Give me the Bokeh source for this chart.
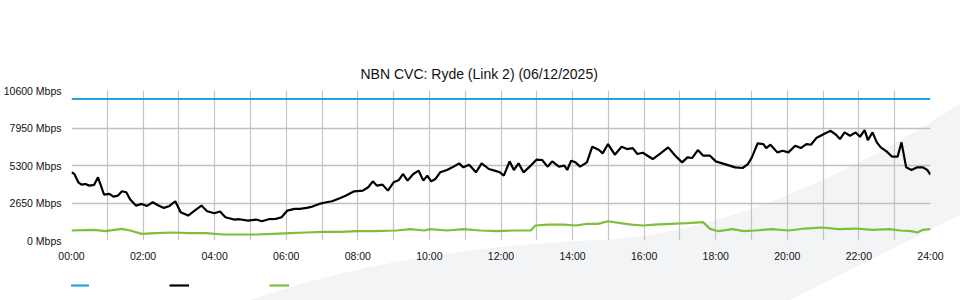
from bokeh.plotting import figure
from bokeh.layouts import column
from bokeh.models import Range1d, FixedTicker, Legend, LegendItem, InlineStyleSheet
from bokeh.embed import file_html
from bokeh.resources import INLINE

# ---- data (hours since midnight, Mbps) ----
title_text = "NBN CVC: Ryde (Link 2) (06/12/2025)"

cap_hours = [0, 24]
cap_mbps = [10000, 10000]

down_hours = [0.00, 0.08, 0.19, 0.28, 0.39, 0.50, 0.63, 0.74, 0.91, 1.06, 1.17, 1.30, 1.41, 1.53, 1.64,
              1.80, 1.96, 2.11, 2.27, 2.43, 2.58, 2.74, 2.90, 3.05, 3.26, 3.44, 3.63, 3.79, 3.99, 4.15,
              4.30, 4.54, 4.69, 4.93, 5.16, 5.32, 5.51, 5.71, 5.87, 6.03, 6.23, 6.38, 6.57, 6.73, 6.92,
              7.12, 7.28, 7.51, 7.67, 7.90, 8.14, 8.29, 8.42, 8.53, 8.69, 8.84, 9.00, 9.15, 9.26, 9.39,
              9.55, 9.70, 9.83, 9.94, 10.05, 10.17, 10.30, 10.49, 10.64, 10.83, 10.95, 11.11, 11.30,
              11.46, 11.66, 11.82, 11.97, 12.08, 12.24, 12.36, 12.49, 12.63, 12.80, 12.99, 13.15, 13.30,
              13.43, 13.62, 13.77, 13.85, 13.96, 14.08, 14.21, 14.40, 14.55, 14.74, 14.84, 14.99, 15.18,
              15.37, 15.52, 15.68, 15.81, 15.96, 16.24, 16.43, 16.67, 16.87, 17.06, 17.21, 17.34, 17.50,
              17.65, 17.84, 18.00, 18.18, 18.39, 18.54, 18.75, 18.90, 19.01, 19.17, 19.33, 19.41, 19.53,
              19.72, 19.87, 20.03, 20.22, 20.38, 20.53, 20.66, 20.81, 21.05, 21.21, 21.36, 21.47, 21.60,
              21.75, 21.91, 22.03, 22.16, 22.25, 22.38, 22.50, 22.61, 22.77, 22.93, 23.08, 23.19, 23.32,
              23.47, 23.63, 23.79, 23.91, 24.00]
down_mbps = [4818, 4700, 4113, 3948, 3995, 3878, 3925, 4465, 3243, 3290, 3102, 3173, 3478, 3408, 2891,
             2468, 2585, 2444, 2703, 2468, 2303, 2444, 2773, 1998, 1763, 2115, 2468, 2068, 1927, 2045,
             1645, 1481, 1504, 1410, 1481, 1363, 1504, 1528, 1645, 2115, 2233, 2233, 2303, 2397, 2585,
             2703, 2773, 3008, 3173, 3478, 3525, 3760, 4183, 3878, 3948, 3525, 4113, 4277, 4700, 4230,
             4700, 4935, 4230, 4583, 4183, 4348, 4818, 4982, 5170, 5452, 5170, 5358, 4818,
             5452, 5053, 4935, 4818, 4583, 5593, 4982, 5452, 4818, 5217, 5711, 5687, 5217,
             5593, 5217, 5288, 4982, 5640, 5523, 5217, 5523, 6627, 6392, 6157, 6815, 6063,
             6627, 6463, 6533, 6110, 6204, 5758, 6110, 6580, 5993, 5523, 5875, 5828, 6392,
             5993, 5993, 5593, 5452, 5288, 5170, 5123, 5405, 5875, 6862, 6815, 6533, 6768,
             6228, 6345, 6228, 6698, 6533, 6815, 6768, 7238, 7567, 7755, 7473, 7168, 7638,
             7403, 7638, 7332, 7802, 7097, 7638, 6933, 6580, 6298, 5922, 5922, 6933, 5170,
             4982, 5170, 5170, 4982, 4653]

up_hours = [0.00, 0.63, 0.94, 1.41, 1.64, 1.96, 2.35, 2.82, 3.29, 3.76, 4.23, 4.69, 5.16, 5.63, 6.10,
            6.57, 7.04, 7.51, 7.98, 8.45, 9.08, 9.47, 9.86, 10.02, 10.49, 10.95, 11.42, 11.89, 12.36,
            12.83, 12.96, 13.30, 13.77, 14.08, 14.40, 14.71, 14.99, 15.34, 15.65, 15.96, 16.28, 16.74,
            17.21, 17.65, 17.84, 18.08, 18.47, 18.78, 19.09, 19.56, 20.03, 20.50, 20.97, 21.44, 21.91,
            22.38, 22.85, 23.16, 23.47, 23.63, 23.79, 24.00]
up_mbps = [705, 752, 658, 823, 705, 470, 517, 564, 517, 517, 423, 423, 423, 470, 517,
           564, 611, 611, 658, 658, 705, 799, 705, 799, 705, 799, 705, 658, 705,
           705, 1058, 1128, 1128, 1058, 1175, 1175, 1363, 1222, 1128, 1058, 1128, 1175,
           1222, 1293, 823, 658, 799, 658, 705, 799, 705, 846, 917, 799, 846,
           752, 799, 705, 658, 564, 752, 799]

x_ticks = list(range(0, 25, 2))
x_tick_labels = ["%02d:00" % h for h in x_ticks]
y_ticks = [0, 2650, 5300, 7950, 10600]
y_tick_labels = ["%d Mbps" % v for v in y_ticks]

series_colors = ["#1ea3df", "#000000", "#7cc03a"]

FONT = "Liberation Sans"

p = figure(width=960, height=270, output_backend="svg", toolbar_location=None,
           x_range=Range1d(0, 24), y_range=Range1d(0, 10600),
           min_border_left=70, min_border_right=30, min_border_top=90, min_border_bottom=30)
p.title.text = title_text
p.title.text_font = FONT
p.title.text_font_size = "14px"
p.title.text_font_style = "normal"
p.title.text_color = "#111111"
p.title.align = "left"
p.title.offset = 289
p.title.standoff = 17
p.outline_line_color = None
p.border_fill_color = None
p.background_fill_color = None

for ax in (p.xaxis[0], p.yaxis[0]):
    ax.axis_line_color = None
    ax.major_tick_line_color = None
    ax.minor_tick_line_color = None
    ax.major_tick_out = 0
    ax.major_tick_in = 0
    ax.minor_tick_out = 0
    ax.major_label_text_font = FONT
    ax.major_label_text_font_size = "10.5px"
    ax.major_label_text_color = "#111111"

p.xaxis.ticker = FixedTicker(ticks=x_ticks)
p.xaxis.major_label_overrides = dict(zip(x_ticks, x_tick_labels))
p.xaxis.major_label_standoff = 9
p.yaxis.ticker = FixedTicker(ticks=y_ticks)
p.yaxis.major_label_overrides = dict(zip(y_ticks, y_tick_labels))
p.yaxis.major_label_standoff = 10

p.xgrid.ticker = FixedTicker(ticks=list(range(0, 25)))
p.xgrid.grid_line_color = "#c4c4c4"
p.xgrid.grid_line_width = 1.2
p.ygrid.grid_line_color = "#c0c0c0"
p.ygrid.grid_line_width = 1.6

p.line(cap_hours, cap_mbps, line_color=series_colors[0], line_width=2.2)
p.line(down_hours, down_mbps, line_color=series_colors[1], line_width=2.2)
p.line(up_hours, up_mbps, line_color=series_colors[2], line_width=2.2)

# legend strip below the chart (labels are blank in the reference)
lg = figure(width=960, height=30, output_backend="svg", toolbar_location=None,
            x_range=Range1d(0, 1), y_range=Range1d(0, 1),
            x_axis_location=None, y_axis_location=None,
            min_border_left=70, min_border_right=0, min_border_top=0, min_border_bottom=0)
lg.outline_line_color = None
lg.border_fill_color = None
lg.background_fill_color = None
lg.xgrid.visible = False
lg.ygrid.visible = False
items = []
for c in series_colors:
    # legend-key renderers carry no drawable point (NaN), only their style
    r = lg.line([0.0], [float("nan")], line_color=c, line_width=2.2)
    items.append(LegendItem(label=" ", renderers=[r]))
legend = Legend(items=items, orientation="horizontal", location=(-2, 7),
                glyph_width=20, glyph_height=16, label_width=75, label_standoff=5,
                spacing=0, padding=0, margin=0,
                border_line_color=None, background_fill_alpha=0,
                label_height=16, label_text_font_size="8px")
lg.add_layout(legend)

# faint decorative swoosh behind the chart
swoosh_svg = ("<svg xmlns='http://www.w3.org/2000/svg' width='960' height='300'>"
              "<path d='M250,300 Q400,248 600,240 Q760,232 960,104 L960,215 Q880,255 790,300 Z' "
              "fill='%23f3f4f6'/></svg>")
bg = InlineStyleSheet(css=':host { background-image: url("data:image/svg+xml;utf8,' + swoosh_svg +
                      '"); background-repeat: no-repeat; background-position: 0 0; }')
layout = column(p, lg, spacing=0)
layout.stylesheets = [bg]

open("out.html", "w").write(file_html(layout, INLINE))
